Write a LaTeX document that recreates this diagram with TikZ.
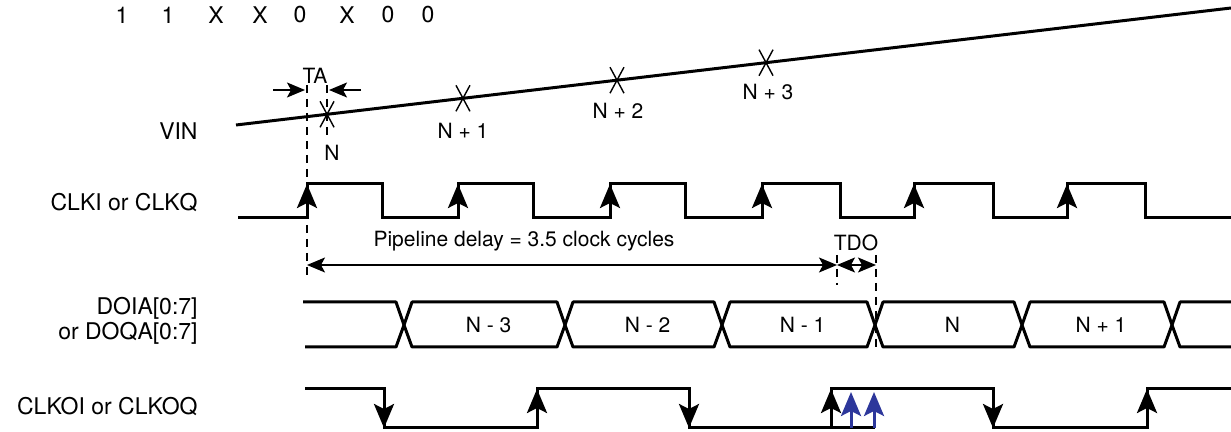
\documentclass[tikz,border=0pt]{standalone}
\usepackage{fontspec}
\setmainfont{TeX Gyre Heros}
\usepackage{tikz}
\usetikzlibrary{arrows.meta,arrows}
\definecolor{arrowblue}{RGB}{45,55,155}

\begin{document}
\begin{tikzpicture}[x=0.5pt,y=-0.5pt,
        sig/.style={line width=1.5pt},
        bus/.style={line width=1.5pt,line join=round},
        fine/.style={line width=0.7pt},
        dsh/.style={line width=0.75pt,dash pattern=on 4pt off 3pt},
        edgeup/.style={line width=1.5pt,-{Stealth[length=12pt,width=10pt,inset=2.5pt]}},
        dimarrow/.style={line width=0.75pt,-{Stealth[length=9pt,width=7.5pt,inset=2pt]}},
        dimboth/.style={line width=0.75pt,{Stealth[length=9pt,width=7.5pt,inset=2pt]}-{Stealth[length=9pt,width=7.5pt,inset=2pt]}},
        lbl/.style={font=\fontsize{11.5}{12.5}\selectfont,anchor=east,inner sep=0pt},
        txt/.style={font=\fontsize{10.5}{12}\selectfont,inner sep=1pt},
        smalltxt/.style={font=\fontsize{11.5}{13}\selectfont,inner sep=1pt}]
        \useasboundingbox (0,0) rectangle (1231,432);
        % Bit pattern
        \foreach \x/\b [count=\i] in {122/1,168/1,216/X,260/X,300/0,347/X,388/0,428/0}
            \node[smalltxt] (bit\i) at (\x,15) {\b};
        % Signal names
        \node[lbl] (vinlbl) at (198,131) {VIN};
        \node[lbl] (clklbl) at (198,203) {CLKI or CLKQ};
        \node[lbl,align=right] (doutlbl) at (198,321) {DOIA[0:7]\\or DOQA[0:7]};
        \node[lbl] (clkolbl) at (198,407) {CLKOI or CLKOQ};
        %
        % Analog input and sampling points:
        \draw[sig] (236,125) coordinate (vinA) -- (1231,8) coordinate (vinB);
        \foreach \p [count=\i] in {0.0915,0.2281,0.3829,0.5327}{
            \path (vinA) -- (vinB) coordinate[pos=\p] (s\i);
            \draw[fine] (s\i) ++(-7,-13) -- ++(14,26) (s\i) ++(-7,13) -- ++(14,-26);
        }
        \node[txt] (sN) at (332,153) {N};
        \node[txt] (sN1) at (463,131) {N + 1};
        \node[txt] (sN2) at (618,111) {N + 2};
        \node[txt] (sN3) at (768,92) {N + 3};
        % Aperture delay
        \draw[dsh] (307,85) -- (307,278);
        \draw[dsh] (327,85) -- (327,140);
        \draw[dimarrow] (273,90) -- (305,90);
        \draw[dimarrow] (361,90) -- (329,90);
        \node[txt] (ta) at (315,76) {TA};
        %
        % Input clock:
        \draw[sig] (238,218) -- (307,218) -- (307,184) -- (382,184) -- (382,218) -- (458,218) -- (458,184)
            -- (533,184) -- (533,218) -- (610,218) -- (610,184) -- (685,184) -- (685,218) -- (762,218)
            -- (762,184) -- (840,184) -- (840,218) -- (914,218) -- (914,184) -- (993,184) -- (993,218)
            -- (1067,218) -- (1067,184) -- (1145,184) -- (1145,218) -- (1231,218);
        \foreach \x in {307,458,610,762,914,1067}
            \draw[edgeup] (\x,218) -- (\x,184);
        % Pipeline delay and TDO
        \draw[dimboth] (307,265) -- (837,265);
        \node[txt] (pipe) at (524,241) {Pipeline delay = 3.5 clock cycles};
        \draw[dsh] (837,255) -- (837,285);
        \draw[dsh] (876,255) -- (876,350);
        \draw[dimboth] (837,265) -- (876,265);
        \node[txt] (tdo) at (856,243) {TDO};
        %
        % Output data:
        \draw[bus] (303,302) -- (396,302) -- (404,325) -- (396,347) -- (305,347);
        \foreach \a/\b/\t [count=\i] in {404/565/N - 3,565/722/N - 2,722/875/N - 1,875/1022/N,1022/1172/N + 1}{
            \draw[bus] (\a,325) -- (\a+8,302) -- (\b-8,302) -- (\b,325) -- (\b-8,347) -- (\a+8,347) -- cycle;
            \node[txt] (word\i) at ({(\a+\b)/2+4},325) {\t};
        }
        \draw[bus] (1231,302) -- (1180,302) -- (1172,325) -- (1180,347) -- (1231,347);
        %
        % Output clock:
        \draw[sig] (305,389) -- (384,389) -- (384,428) -- (537,428) -- (537,389) -- (689,389) -- (689,428) -- (875,428);
        \draw[sig] (831,428) -- (831,389) -- (993,389) -- (993,428) -- (1147,428) -- (1147,389) -- (1231,389);
        \foreach \x in {384,689,993}
            \draw[edgeup] (\x,389) -- (\x,428);
        \foreach \x in {537,831,1147}
            \draw[edgeup] (\x,428) -- (\x,389);
        \foreach \x in {851,874}
            \draw[edgeup,arrowblue] (\x,428) -- (\x,392);
\end{tikzpicture}
\end{document}
